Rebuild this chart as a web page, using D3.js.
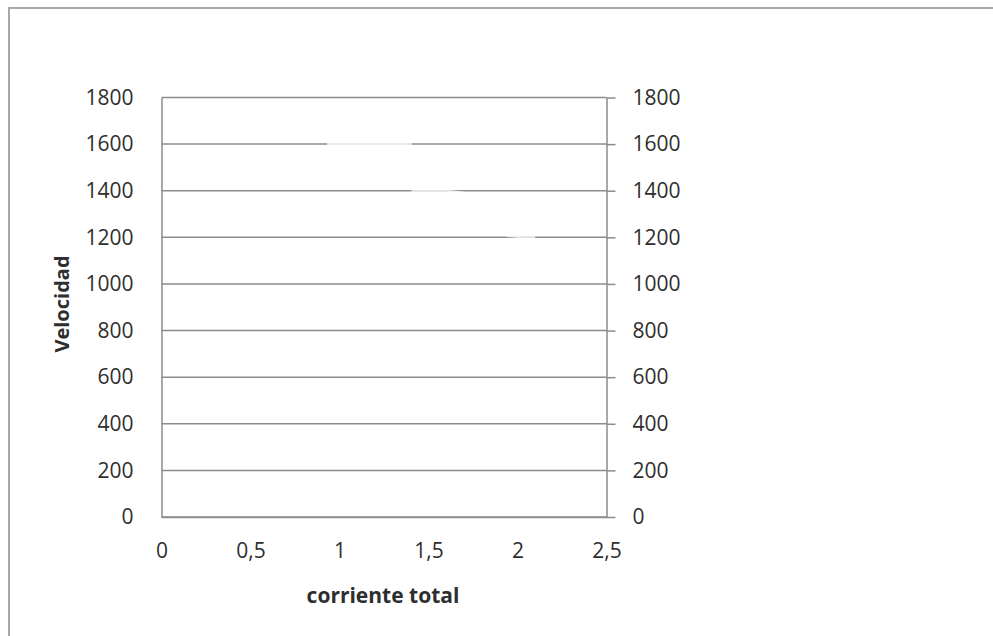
<!DOCTYPE html>
<html>
<head>
<meta charset="utf-8">
<script src="https://cdn.jsdelivr.net/npm/d3@7"></script>
<style>
  html, body { margin: 0; padding: 0; background: #fff; }
  svg { display: block; }
  text { font-family: "Open Sans", "Noto Sans", sans-serif; fill: #2e2e2e; }
</style>
</head>
<body>
<svg id="chart" width="993" height="636"></svg>
<script>
// Measured speed versus total current (series drawn in white)
const corriente = [0.93, 1.40, 1.41, 1.60, 1.69, 1.94, 2.02, 2.10];
const velocidad = [1600, 1600, 1400, 1400, 1394, 1206, 1200, 1200];

// Axis ticks and titles
const xTicks = [0, 0.5, 1, 1.5, 2, 2.5];
const yTicks = [0, 200, 400, 600, 800, 1000, 1200, 1400, 1600, 1800];
const xTitle = "corriente total";
const yTitle = "Velocidad";

const svg = d3.select("#chart");
const W = 993, H = 636;
const plot = { left: 161.5, right: 606.5, top: 97.5, bottom: 517 };
const gridColor = "#8c8c8c";
const textColor = "#2e2e2e";

// outer chart frame (runs past the right and bottom edges)
svg.append("rect")
  .attr("x", 9).attr("y", 8)
  .attr("width", W + 20).attr("height", H + 20)
  .attr("fill", "#fff")
  .attr("stroke", "#a8a8a8").attr("stroke-width", 2);

const x = d3.scaleLinear().domain([0, 2.5]).range([plot.left, plot.right]);
const y = d3.scaleLinear().domain([0, 1800]).range([plot.bottom, plot.top]);

const fmt = d => String(d).replace(".", ",");

// horizontal gridlines
svg.append("g")
  .selectAll("line")
  .data(yTicks)
  .join("line")
  .attr("x1", plot.left).attr("x2", plot.right)
  .attr("y1", d => y(d)).attr("y2", d => y(d))
  .attr("stroke", gridColor).attr("stroke-width", 1.5);

// left axis: labels only
const leftAxis = svg.append("g")
  .attr("transform", `translate(${plot.left},0)`)
  .call(d3.axisLeft(y).tickValues(yTicks).tickSize(0).tickPadding(28).tickFormat(d => d));
leftAxis.select(".domain").attr("stroke", gridColor).attr("stroke-width", 1.5);
leftAxis.selectAll("text").style("font-size", "21px").attr("fill", textColor);

// right axis with outward ticks
const rightAxis = svg.append("g")
  .attr("transform", `translate(${plot.right},0)`)
  .call(d3.axisRight(y).tickValues(yTicks).tickSizeInner(9).tickSizeOuter(0).tickPadding(17).tickFormat(d => d));
rightAxis.select(".domain").attr("stroke", gridColor).attr("stroke-width", 1.5);
rightAxis.selectAll(".tick line").attr("stroke", gridColor).attr("stroke-width", 1.5);
rightAxis.selectAll("text").style("font-size", "21px").attr("fill", textColor);

// bottom axis: line and labels
const bottomAxis = svg.append("g")
  .attr("transform", `translate(0,${plot.bottom})`)
  .call(d3.axisBottom(x).tickValues(xTicks).tickSize(0).tickPadding(26).tickFormat(fmt));
bottomAxis.select(".domain").attr("stroke", gridColor).attr("stroke-width", 1.5);
bottomAxis.selectAll("text").style("font-size", "21px").attr("fill", textColor);

// data series
const line = d3.line().x((d, i) => x(corriente[i])).y((d, i) => y(velocidad[i]));
svg.append("path")
  .datum(velocidad)
  .attr("d", line)
  .attr("fill", "none")
  .attr("stroke", "#ffffff").attr("stroke-opacity", 0.75)
  .attr("stroke-width", 2);

// axis titles
svg.append("text")
  .attr("x", 383).attr("y", 603)
  .attr("text-anchor", "middle")
  .style("font-size", "21px").style("font-weight", "bold")
  .text(xTitle);

svg.append("text")
  .attr("transform", "translate(69,304) rotate(-90)")
  .attr("text-anchor", "middle")
  .style("font-size", "20px").style("font-weight", "bold")
  .text(yTitle);
</script>
</body>
</html>
